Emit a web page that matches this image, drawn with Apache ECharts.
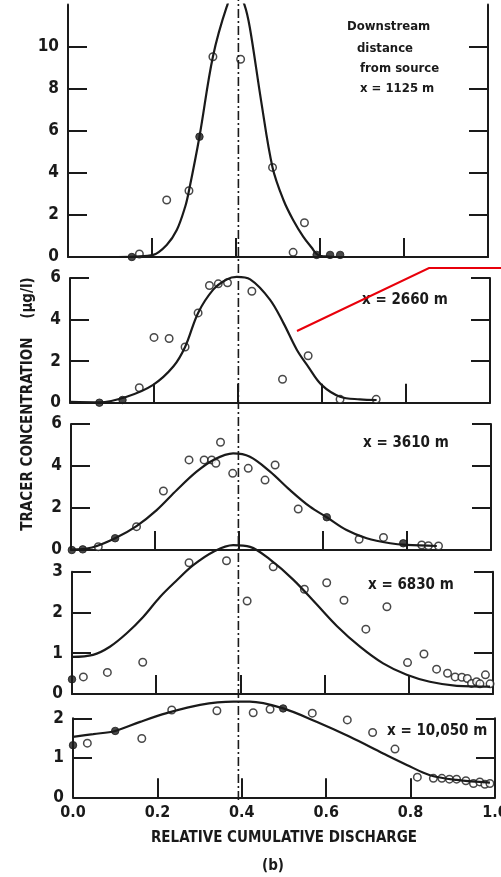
<!DOCTYPE html>
<html>
<head>
<meta charset="utf-8">
<script src="https://cdn.jsdelivr.net/npm/echarts@6/dist/echarts.min.js"></script>
<style>
  html, body { margin: 0; padding: 0; background: #fff; }
  #chart { width: 501px; height: 877px; }
</style>
</head>
<body>
<div id="chart"></div>
<script>
// panel labels
var panelLabels = ["x = 1125 m", "x = 2660 m", "x = 3610 m", "x = 6830 m", "x = 10,050 m"];
var yMax = [12, 6, 6, 3, 2];
var yTicks = [[0, 2, 4, 6, 8, 10], [0, 2, 4, 6], [0, 2, 4, 6], [0, 1, 2, 3], [0, 1, 2]];
var xTicks = [0.2, 0.4, 0.6, 0.8];
var xLabels = [0, 0.2, 0.4, 0.6, 0.8, 1.0];
var peakX = 0.40;

// x = 1125 m
var open1125 = [[0.170, 0.14], [0.235, 2.71], [0.288, 3.15], [0.345, 9.52], [0.411, 9.4], [0.487, 4.26], [0.563, 1.63], [0.536, 0.22]];
var filled1125 = [[0.152, 0.0], [0.313, 5.72], [0.592, 0.1], [0.624, 0.1], [0.648, 0.1]];
var fit1125 = [[0.10, 0], [0.16, 0.02], [0.203, 0.1], [0.235, 0.57], [0.259, 1.28], [0.279, 2.39], [0.288, 3.15], [0.313, 5.72], [0.345, 9.52], [0.378, 11.9], [0.40, 12.8], [0.42, 12.0], [0.433, 10.9], [0.46, 7.4], [0.487, 4.26], [0.513, 2.71], [0.536, 1.76], [0.56, 0.97], [0.58, 0.45], [0.595, 0.1], [0.62, 0.02], [0.66, 0]];

// x = 2660 m
var open2660 = [[0.165, 0.72], [0.2, 3.14], [0.236, 3.09], [0.274, 2.68], [0.305, 4.32], [0.332, 5.64], [0.353, 5.72], [0.375, 5.77], [0.433, 5.36], [0.506, 1.13], [0.567, 2.26], [0.643, 0.16], [0.729, 0.16]];
var filled2660 = [[0.07, 0], [0.125, 0.13]];
var fit2660 = [[0.0, 0.04], [0.07, 0.02], [0.135, 0.29], [0.198, 0.86], [0.246, 1.74], [0.274, 2.68], [0.305, 4.32], [0.341, 5.44], [0.373, 5.93], [0.397, 6.05], [0.429, 5.93], [0.476, 4.96], [0.508, 3.84], [0.54, 2.55], [0.567, 1.74], [0.599, 0.86], [0.643, 0.29], [0.69, 0.16], [0.73, 0.13]];

// x = 3610 m
var open3610 = [[0.065, 0.16], [0.156, 1.11], [0.22, 2.81], [0.281, 4.29], [0.317, 4.29], [0.335, 4.29], [0.345, 4.13], [0.356, 5.13], [0.385, 3.65], [0.422, 3.89], [0.462, 3.33], [0.486, 4.05], [0.541, 1.95], [0.686, 0.51], [0.744, 0.6], [0.835, 0.24], [0.851, 0.2], [0.875, 0.19]];
var filled3610 = [[0.002, 0], [0.028, 0.03], [0.105, 0.56], [0.609, 1.56], [0.791, 0.32]];
var fit3610 = [[0.0, 0.02], [0.05, 0.12], [0.105, 0.56], [0.156, 1.14], [0.204, 1.9], [0.252, 2.86], [0.299, 3.73], [0.339, 4.29], [0.386, 4.6], [0.426, 4.44], [0.474, 3.73], [0.521, 2.86], [0.569, 2.06], [0.609, 1.56], [0.656, 0.95], [0.704, 0.56], [0.76, 0.32], [0.799, 0.24], [0.871, 0.19]];

// x = 6830 m
var open6830 = [[0.027, 0.42], [0.084, 0.53], [0.168, 0.78], [0.278, 3.22], [0.367, 3.27], [0.416, 2.28], [0.478, 3.12], [0.552, 2.57], [0.605, 2.73], [0.646, 2.30], [0.698, 1.59], [0.748, 2.14], [0.797, 0.77], [0.836, 0.98], [0.866, 0.61], [0.892, 0.51], [0.91, 0.42], [0.926, 0.41], [0.939, 0.38], [0.949, 0.26], [0.961, 0.3], [0.969, 0.25], [0.982, 0.47], [0.993, 0.25]];
var filled6830 = [[0.0, 0.36]];
var fit6830 = [[0.0, 0.91], [0.05, 0.96], [0.09, 1.16], [0.13, 1.49], [0.169, 1.89], [0.209, 2.38], [0.249, 2.79], [0.288, 3.16], [0.336, 3.49], [0.383, 3.65], [0.423, 3.61], [0.47, 3.3], [0.526, 2.8], [0.581, 2.2], [0.629, 1.67], [0.684, 1.16], [0.739, 0.75], [0.795, 0.47], [0.85, 0.3], [0.914, 0.2], [0.993, 0.18]];

// x = 10,050 m
var open10050 = [[0.034, 1.37], [0.163, 1.49], [0.234, 2.21], [0.341, 2.19], [0.427, 2.14], [0.467, 2.23], [0.567, 2.13], [0.65, 1.96], [0.71, 1.64], [0.763, 1.22], [0.816, 0.51], [0.854, 0.48], [0.874, 0.48], [0.892, 0.46], [0.909, 0.46], [0.931, 0.42], [0.949, 0.35], [0.964, 0.39], [0.976, 0.33], [0.988, 0.35]];
var filled10050 = [[0.0, 1.32], [0.1, 1.68], [0.498, 2.25]];
var fit10050 = [[0.0, 1.53], [0.048, 1.6], [0.1, 1.68], [0.159, 1.91], [0.222, 2.13], [0.301, 2.34], [0.38, 2.42], [0.419, 2.42], [0.498, 2.25], [0.577, 1.91], [0.656, 1.53], [0.735, 1.11], [0.791, 0.82], [0.846, 0.56], [0.909, 0.44], [0.988, 0.37]];

var openSets = [open1125, open2660, open3610, open6830, open10050];
var filledSets = [filled1125, filled2660, filled3610, filled6830, filled10050];
var fitSets = [fit1125, fit2660, fit3610, fit6830, fit10050];

var ink = "#1a1a1a";
var numFont = "'Liberation Sans Narrow', 'DejaVu Sans Condensed', sans-serif";
var textFont = "'DejaVu Sans Condensed', 'DejaVu Sans', sans-serif";

// panel frames, slightly skewed like the scan
var grids = [
  { left: 68, width: 420, top: 4.6, height: 252.4 },
  { left: 70, width: 420, top: 278, height: 124.7 },
  { left: 71, width: 420, top: 424, height: 126 },
  { left: 72, width: 421, top: 571.7, height: 122.3 },
  { left: 73, width: 422, top: 718.3, height: 79 },
  { left: 70, width: 421, top: 0, height: 800 } // overlay for the dash-dot peak line
];
grids.forEach(function (g) { g.containLabel = false; g.outerBoundsMode = "none"; });

var xAxes = [], yAxes = [], series = [];
for (var i = 0; i < 5; i++) {
  xAxes.push({
    type: "value", gridIndex: i, min: 0, max: 1,
    axisLine: { show: true, lineStyle: { color: ink, width: 2 } },
    axisTick: { show: true, inside: true, length: 19, customValues: xTicks, lineStyle: { color: ink, width: 2 } },
    axisLabel: {
      show: i === 4, customValues: xLabels, margin: 8, hideOverlap: false,
      color: ink, fontFamily: numFont, fontWeight: "bold", fontSize: 16,
      formatter: function (v) { return v.toFixed(1); }
    },
    splitLine: { show: false }
  });
  yAxes.push({
    type: "value", gridIndex: i, min: 0, max: yMax[i], position: "left",
    axisLine: { show: true, lineStyle: { color: ink, width: 2 } },
    axisTick: { show: true, inside: true, length: 19, customValues: yTicks[i], lineStyle: { color: ink, width: 2 } },
    axisLabel: { customValues: yTicks[i], margin: 9, color: ink, fontFamily: numFont, fontWeight: "bold", fontSize: 17 },
    splitLine: { show: false }
  });
  yAxes.push({
    type: "value", gridIndex: i, min: 0, max: yMax[i], position: "right",
    axisLine: { show: true, lineStyle: { color: ink, width: 2 } },
    axisTick: { show: true, inside: true, length: 19, customValues: yTicks[i].slice(1), lineStyle: { color: ink, width: 2 } },
    axisLabel: { show: false },
    splitLine: { show: false }
  });
  series.push({
    type: "line", xAxisIndex: i, yAxisIndex: i * 2, data: fitSets[i],
    smooth: 0.35, showSymbol: false, clip: i === 0, silent: true,
    lineStyle: { color: ink, width: 2.2 }
  });
  series.push({
    type: "scatter", xAxisIndex: i, yAxisIndex: i * 2, data: openSets[i],
    symbol: "circle", symbolSize: 7.5, clip: false,
    itemStyle: { color: "#fff", borderColor: ink, borderWidth: 1.5 }
  });
  series.push({
    type: "scatter", xAxisIndex: i, yAxisIndex: i * 2, data: filledSets[i],
    symbol: "circle", symbolSize: 7.5, clip: false,
    itemStyle: { color: ink, borderColor: ink, borderWidth: 1 }
  });
}

// overlay axes (hidden) for the dash-dot line through all panels
xAxes.push({ type: "value", gridIndex: 5, min: 0, max: 1, show: false });
yAxes.push({ type: "value", gridIndex: 5, min: 0, max: 1, show: false });
series.push({
  type: "line", xAxisIndex: 5, yAxisIndex: 10,
  data: [[peakX, 0], [peakX, 1]], showSymbol: false, silent: true,
  lineStyle: { color: ink, width: 1.6, type: [9, 3, 2, 3] }
});

var labelPos = [
  { left: 360, top: 82 },
  { left: 362, top: 293 },
  { left: 363, top: 436 },
  { left: 368, top: 578 },
  { left: 387, top: 724 }
];
var graphics = [];
var headLines = ["Downstream", "distance", "from source"];
var headPos = [[347, 20], [357, 42], [360, 62]];
for (var h = 0; h < headLines.length; h++) {
  graphics.push({ type: "text", left: headPos[h][0], top: headPos[h][1],
    style: { text: headLines[h], fill: ink, font: "bold 13px " + textFont } });
}
for (var k = 0; k < 5; k++) {
  graphics.push({ type: "text", left: labelPos[k].left, top: labelPos[k].top,
    style: { text: panelLabels[k], fill: ink, font: "bold " + (k === 0 ? 13 : 15) + "px " + textFont } });
}
// axis titles
graphics.push({ type: "text", x: 28, y: 404, rotation: Math.PI / 2,
  style: { text: "TRACER CONCENTRATION    (\u03bcg/l)", fill: ink, font: "bold 15px " + textFont, align: "center", verticalAlign: "middle" } });
graphics.push({ type: "text", x: 284, y: 838,
  style: { text: "RELATIVE CUMULATIVE DISCHARGE", fill: ink, font: "bold 15px " + textFont, align: "center", verticalAlign: "middle" } });
graphics.push({ type: "text", x: 273, y: 866,
  style: { text: "(b)", fill: ink, font: "bold 15px " + textFont, align: "center", verticalAlign: "middle" } });
// red annotation stroke drawn over the scan
graphics.push({ type: "polyline", z: 100,
  shape: { points: [[297, 331], [429, 268], [501, 268]] },
  style: { stroke: "#e8000b", lineWidth: 2, fill: null } });

var chart = echarts.init(document.getElementById("chart"));
chart.setOption({
  animation: false,
  backgroundColor: "#fff",
  grid: grids,
  xAxis: xAxes,
  yAxis: yAxes,
  series: series,
  graphic: graphics
});
</script>
</body>
</html>
